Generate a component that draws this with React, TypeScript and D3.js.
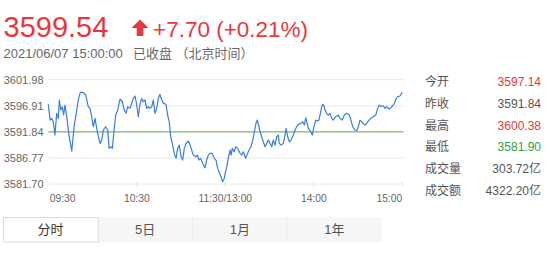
import React from "react";
import * as d3 from "d3";

// ---- data ----
const lastPrice = "3599.54";
const change = "+7.70 (+0.21%)";
const timeLine = "2021/06/07 15:00:00";
const statusLine = "已收盘 （北京时间）";

const prevClose = 3591.84;
const yTicks = [3581.7, 3586.77, 3591.84, 3596.91, 3601.98];
const xTickMinutes = [0, 60, 120, 180, 240];
const xTickLabels = ["09:30", "10:30", "11:30/13:00", "14:00", "15:00"];

const statLabels = ["今开", "昨收", "最高", "最低", "成交量", "成交额"];
const statValues = ["3597.14", "3591.84", "3600.38", "3581.90", "303.72亿", "4322.20亿"];
const statKinds = ["up", "flat", "up", "down", "flat", "flat"];

const tabLabels = ["分时", "5日", "1月", "1年"];

// [minutes since 09:30 (trading time), index value]
const series: [number, number][] = [
  [0, 3597.2], [1.2, 3594.14], [2.3, 3594.47], [3.4, 3593.81], [4.5, 3591.23], [5.7, 3595.45],
  [6.8, 3594.47], [7.5, 3598.03], [8.4, 3596.09], [9.5, 3596.73], [10.4, 3595.12], [11.3, 3597.06],
  [12.5, 3594.79], [14.0, 3591.23], [15.9, 3588.12], [17.6, 3593.17], [19.3, 3596.09], [20.3, 3598.03],
  [21.7, 3599.53], [23.7, 3599.53], [25.4, 3599.01], [27.1, 3596.73], [28.3, 3596.42], [29.4, 3594.79],
  [30.5, 3592.84], [31.7, 3594.47], [33.2, 3591.87], [35.1, 3589.61], [36.2, 3590.26], [37.3, 3592.2],
  [38.9, 3592.84], [40.3, 3592.2], [41.2, 3588.64], [42.3, 3588.95], [43.4, 3588.64], [44.5, 3591.87],
  [45.7, 3595.12], [47.1, 3596.09], [48.6, 3598.23], [50.2, 3597.7], [51.5, 3596.09], [52.7, 3595.45],
  [53.8, 3596.73], [55.4, 3596.42], [56.5, 3597.39], [57.6, 3598.36], [58.8, 3598.81], [59.9, 3597.2],
  [61.0, 3594.79], [62.2, 3597.26], [63.3, 3598.36], [64.4, 3597.7], [65.6, 3598.03], [66.7, 3596.42],
  [67.8, 3596.73], [68.9, 3596.42], [70.1, 3596.73], [71.2, 3598.03], [72.3, 3595.45], [73.5, 3596.42],
  [74.6, 3598.36], [75.7, 3599.14], [76.9, 3598.03], [78.0, 3597.39], [79.8, 3597.2], [80.9, 3595.12],
  [82.0, 3593.81], [83.0, 3590.9], [84.1, 3589.61], [85.4, 3587.67], [86.6, 3586.7], [87.7, 3588.64],
  [88.8, 3589.28], [90.0, 3587.01], [91.1, 3586.37], [92.2, 3588.64], [93.4, 3589.61], [94.9, 3590.06],
  [96.1, 3589.28], [97.2, 3588.31], [98.3, 3587.34], [99.9, 3587.01], [101.0, 3587.34], [102.2, 3586.37],
  [103.3, 3586.7], [104.7, 3585.72], [106.2, 3584.87], [107.4, 3586.37], [108.5, 3587.34], [109.6, 3587.67],
  [111.2, 3587.67], [112.5, 3586.7], [113.7, 3586.37], [114.8, 3584.75], [115.9, 3583.97], [117.1, 3583.12],
  [118.2, 3582.15], [119.3, 3582.81], [120.1, 3584.03], [121.1, 3585.2], [122.0, 3586.76], [123.2, 3588.31],
  [123.9, 3587.34], [124.7, 3588.64], [125.9, 3587.98], [127.1, 3588.95], [128.4, 3588.64], [130.0, 3587.67],
  [131.1, 3587.34], [132.2, 3587.98], [133.8, 3586.7], [135.2, 3587.67], [136.1, 3588.31], [137.4, 3588.95],
  [138.6, 3590.26], [139.7, 3591.87], [140.8, 3593.5], [141.7, 3594.14], [142.8, 3592.84], [144.2, 3591.23],
  [145.8, 3589.92], [146.9, 3588.95], [148.1, 3589.61], [149.2, 3590.26], [150.3, 3589.61], [151.5, 3588.95],
  [152.5, 3590.26], [153.7, 3589.28], [154.8, 3590.9], [155.9, 3591.23], [156.6, 3589.61], [157.8, 3589.28],
  [159.3, 3589.61], [160.5, 3591.23], [161.2, 3592.53], [162.3, 3590.9], [163.4, 3589.92], [164.5, 3590.26],
  [166.1, 3591.23], [167.3, 3592.2], [168.4, 3592.84], [169.5, 3593.31], [171.3, 3593.5], [172.5, 3593.81],
  [173.6, 3593.17], [174.5, 3594.59], [175.2, 3593.81], [176.3, 3592.53], [177.9, 3591.87], [179.0, 3591.23],
  [180.1, 3592.84], [181.3, 3594.14], [182.6, 3593.95], [183.5, 3594.14], [184.9, 3596.09], [185.8, 3597.2],
  [186.9, 3596.92], [187.6, 3596.09], [188.7, 3595.45], [189.8, 3595.12], [191.0, 3595.45], [192.1, 3594.47],
  [193.2, 3594.14], [194.8, 3594.79], [196.6, 3595.12], [197.8, 3594.47], [199.3, 3594.14], [200.7, 3595.12],
  [202.3, 3595.45], [204.1, 3595.12], [205.2, 3594.14], [206.4, 3592.84], [207.9, 3592.2], [209.1, 3592.06],
  [210.2, 3592.84], [211.3, 3594.14], [212.5, 3593.81], [213.6, 3593.5], [214.7, 3593.17], [215.9, 3593.5],
  [216.9, 3593.95], [218.6, 3594.47], [220.3, 3594.79], [222.0, 3595.12], [223.3, 3596.42], [224.4, 3597.06],
  [225.6, 3596.73], [227.1, 3596.92], [228.3, 3596.42], [229.4, 3596.73], [231.0, 3596.28], [232.3, 3596.54],
  [233.5, 3596.92], [234.6, 3597.39], [235.7, 3598.23], [236.9, 3598.67], [238.4, 3598.81], [240, 3599.54],
];

const RED = "#e8383d";
const GREEN = "#2f9e3f";
const FONT = "'Liberation Sans', Arial, 'Noto Sans CJK SC', sans-serif";

export default function App() {
  const x = d3.scaleLinear().domain([0, 240]).range([48.3, 402.3]);
  const y = d3.scaleLinear().domain([3581.7, 3601.98]).range([184.1, 79.7]);
  const line = d3
    .line<[number, number]>()
    .x((d) => x(d[0]))
    .y((d) => y(d[1]));

  const rowY = d3.scaleLinear().domain([0, 1]).range([86, 107.75]);
  const tabX = d3.scaleBand<string>().domain(tabLabels).range([3.3, 381.7]);

  const kindColor = (k: string) => (k === "up" ? RED : k === "down" ? GREEN : "#555");

  return (
    <svg
      width={550}
      height={256}
      style={{ position: "absolute", left: 0, top: 0, background: "#fff" }}
      fontFamily={FONT}
    >
      {/* header */}
      <text x={3.5} y={37.3} fontSize={29} fill={RED}>
        {lastPrice}
      </text>
      <path d="M140 19.5 L148.5 28 L143.3 28 L143.3 36 L136.7 36 L136.7 28 L131.5 28 Z" fill={RED} />
      <text x={153} y={36.7} fontSize={22.5} fill={RED}>
        {change}
      </text>
      <text x={3.5} y={58.3} fontSize={13} fill="#666">
        {timeLine}
      </text>
      <text x={133} y={58.3} fontSize={13} fill="#666">
        {statusLine}
      </text>

      {/* grid */}
      {yTicks.map((t) => (
        <g key={t}>
          <line
            x1={48.3}
            x2={403.3}
            y1={y(t)}
            y2={y(t)}
            stroke={t === prevClose ? "#5aa04a" : "#e9e9e9"}
            strokeWidth={1}
          />
          <text x={43.5} y={y(t)} dy="0.35em" textAnchor="end" fontSize={11} fill="#666">
            {t.toFixed(2)}
          </text>
        </g>
      ))}

      {/* x ticks */}
      {xTickMinutes.map((m, i) => (
        <g key={m}>
          {i > 0 && (
            <line x1={x(m)} x2={x(m)} y1={y(3581.7) - 2} y2={y(3581.7) + 3} stroke="#e2e2e2" />
          )}
          <text
            x={i === 0 ? x(m) + 1.5 : x(m)}
            y={201.7}
            fontSize={10.3}
            fill="#666"
            textAnchor={i === 0 ? "start" : i === xTickMinutes.length - 1 ? "end" : "middle"}
          >
            {xTickLabels[i]}
          </text>
        </g>
      ))}

      {/* price line */}
      <path d={line(series) || ""} fill="none" stroke="#3a7ee0" strokeWidth={1.2} strokeLinejoin="round" />

      {/* stats */}
      {statLabels.map((l, i) => (
        <g key={l}>
          <text x={425} y={rowY(i)} fontSize={12} fill="#555">
            {l}
          </text>
          <text x={541} y={rowY(i)} fontSize={12} fill={kindColor(statKinds[i])} textAnchor="end">
            {statValues[i]}
          </text>
        </g>
      ))}

      {/* tabs */}
      <rect x={98.3} y={217.3} width={283.4} height={25} fill="#f6f6f6" />
      {tabLabels.slice(2).map((t) => (
        <line
          key={t}
          x1={tabX(t)!}
          x2={tabX(t)!}
          y1={217.3}
          y2={242.3}
          stroke="#ebebeb"
        />
      ))}
      <rect x={3.5} y={217.5} width={94.8} height={24.6} fill="#fff" stroke="#dcdcdc" />
      {tabLabels.map((t, i) => (
        <text
          key={t}
          x={tabX(t)! + tabX.bandwidth() / 2}
          y={234.3}
          fontSize={13}
          textAnchor="middle"
          fill={i === 0 ? "#333" : "#555"}
        >
          {t}
        </text>
      ))}
    </svg>
  );
}
